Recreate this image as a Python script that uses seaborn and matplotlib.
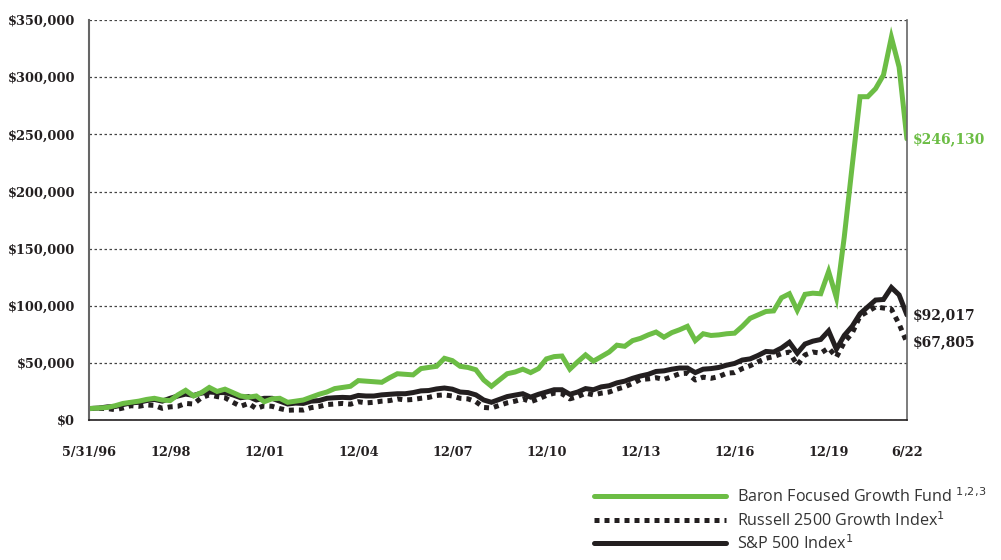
import matplotlib
matplotlib.use('Agg')
import matplotlib.pyplot as plt
import matplotlib.ticker as mticker
import pandas as pd
import seaborn as sns

# quarterly values, growth of $10,000
dates = [pd.Timestamp('1996-05-31')] + list(pd.date_range('1996-09-30', '2022-06-30', freq='QE'))

baron = [10000, 10500, 11000, 12500, 14500, 15500, 16500, 18000, 19000, 17500,
         17000, 22000, 26000, 21000, 24000, 28500, 25000, 27000, 24000, 21000,
         20000, 21000, 16000, 18500, 19000, 15500, 16500, 17500, 20000, 22500,
         24500, 27500, 28500, 29500, 34500, 34000, 33500, 33000, 37000, 40500,
         40000, 39500, 45000, 46000, 47000, 54000, 52000, 47000, 46000, 44000,
         35000, 29500, 35000, 40500, 42000, 44500, 41500, 45000, 53500, 55500,
         56000, 44500, 51000, 57000, 51500, 55500, 59500, 65500, 64500, 69500,
         71500, 74500, 77000, 72500, 76500, 79000, 82000, 69500, 75500, 74000,
         74500, 75500, 76000, 82000, 89000, 92000, 95000, 95500, 107000, 110500,
         96000, 110000, 111000, 110500, 130000, 107000, 160000, 222000, 283000, 283000,
         290000, 302000, 335000, 309000, 246130]

russell = [10000, 10200, 10000, 9000, 10500, 12500, 12000, 13200, 12800, 10200,
           11500, 12000, 14500, 14000, 19500, 22000, 20500, 19500, 15500, 12000,
           14500, 10000, 12500, 12000, 10000, 8500, 8800, 8700, 10800, 11800,
           13500, 14000, 14500, 13800, 16000, 15000, 15500, 16500, 17000, 18500,
           17500, 18000, 19000, 19800, 21500, 22000, 21000, 19000, 18500, 16000,
           11000, 10500, 12800, 15000, 16500, 18500, 16000, 18500, 21500, 23500,
           23000, 18500, 20500, 23500, 22000, 23500, 24500, 27000, 29000, 32000,
           35500, 36000, 37000, 35500, 38000, 40500, 41000, 35000, 37500, 36500,
           38000, 41000, 41500, 45000, 47500, 51000, 54000, 55500, 58000, 59500,
           48000, 57000, 59500, 58500, 63000, 55000, 68000, 76000, 91000, 95000,
           99000, 98000, 97000, 84000, 67805]

sp500 = [10000, 10500, 11500, 11800, 13500, 15000, 15500, 17000, 18000, 16500,
         19000, 21000, 22700, 21500, 23500, 24500, 24000, 24000, 22000, 19500,
         20500, 17500, 19000, 19000, 16500, 14000, 14800, 14500, 16500, 17000,
         19000, 19500, 19800, 19500, 21500, 21000, 21000, 22000, 22500, 23000,
         23000, 24000, 25500, 25800, 27200, 28000, 27000, 24500, 24000, 22000,
         17500, 15500, 18000, 20500, 21800, 23000, 20000, 22500, 24500, 26500,
         26500, 22500, 24500, 27500, 26500, 29000, 30000, 32500, 34000, 36500,
         38500, 40000, 42500, 43000, 44500, 45500, 45500, 41500, 44500, 45000,
         46000, 48000, 49500, 52500, 53500, 56500, 60000, 59500, 63000, 68000,
         58500, 66500, 69000, 70500, 78000, 62000, 74000, 82000, 93000, 99000,
         105000, 105500, 116000, 109500, 92017]

tick_dates = ['1996-05-31', '1998-12-31', '2001-12-31', '2004-12-31', '2007-12-31',
              '2010-12-31', '2013-12-31', '2016-12-31', '2019-12-31', '2022-06-30']
tick_labels = ['5/31/96', '12/98', '12/01', '12/04', '12/07',
               '12/10', '12/13', '12/16', '12/19', '6/22']

df = pd.DataFrame({'date': dates, 'baron': baron, 'russell': russell, 'sp500': sp500})

green = '#6cbd45'
black = '#231f20'

sns.set_style('white')
fig, ax = plt.subplots(figsize=(10.01, 5.6), dpi=100)
fig.subplots_adjust(left=0.089, right=0.906, top=0.964, bottom=0.25)

sns.lineplot(data=df, x='date', y='russell', ax=ax, color=black, lw=3.6,
             linestyle=(0, (1, 1)), label='Russell 2500 Growth Index$^{1}$')
sns.lineplot(data=df, x='date', y='sp500', ax=ax, color=black, lw=3.6,
             label='S&P 500 Index$^{1}$')
sns.lineplot(data=df, x='date', y='baron', ax=ax, color=green, lw=3.6,
             label=r'Baron Focused Growth Fund $^{1,\!2,\!3}$')
for ln in ax.get_lines():
    ln.set_dash_capstyle('butt')
    ln.set_solid_joinstyle('miter')

ax.set_xlim(pd.Timestamp('1996-05-31'), pd.Timestamp('2022-06-30'))
ax.set_ylim(0, 350000)
ax.set_xlabel('')
ax.set_ylabel('')

ax.yaxis.set_major_locator(mticker.MultipleLocator(50000))
ax.yaxis.set_major_formatter(mticker.FuncFormatter(lambda v, p: f'${v:,.0f}'))
ax.set_xticks(pd.to_datetime(tick_dates))
ax.set_xticklabels(tick_labels)

ax.grid(axis='y', color='#444444', linestyle=(0, (2, 2)), lw=0.9)
ax.grid(axis='x', visible=False)
ax.set_axisbelow(True)

ax.spines['top'].set_visible(False)
ax.spines['left'].set_color('#666666')
ax.spines['left'].set_linewidth(1.5)
ax.spines['right'].set_color('#666666')
ax.spines['right'].set_linewidth(1.2)
ax.spines['bottom'].set_color(black)
ax.spines['bottom'].set_linewidth(1.2)

ax.tick_params(axis='y', length=0, pad=10)
ax.tick_params(axis='x', direction='inout', length=16, width=1, color=black, pad=11)
for lab in ax.get_xticklabels() + ax.get_yticklabels():
    lab.set_fontfamily('DejaVu Serif')
    lab.set_fontweight('bold')
    lab.set_fontsize(9.3)
    lab.set_color('#231f20')

# end values
last = df['date'].iloc[-1]
for val, col in [(baron[-1], green), (sp500[-1], black), (russell[-1], black)]:
    ax.annotate(f'${val:,.0f}', xy=(last, val), xytext=(4, 0), textcoords='offset points',
                va='center', ha='left', color=col, fontsize=10, fontweight='bold',
                family='DejaVu Serif', annotation_clip=False)

handles, labels = ax.get_legend_handles_labels()
order = [2, 0, 1]
ax.get_legend().remove()
leg = fig.legend([handles[i] for i in order], [labels[i] for i in order],
                 loc='upper left', bbox_to_anchor=(0.582, 0.15), frameon=False,
                 handlelength=8.2, labelspacing=0.3, handletextpad=0.7,
                 borderpad=0.2, prop={'family': 'Open Sans', 'size': 11.6})
for t in leg.get_texts():
    t.set_color('#333333')

fig.savefig('out.png', dpi=100)
